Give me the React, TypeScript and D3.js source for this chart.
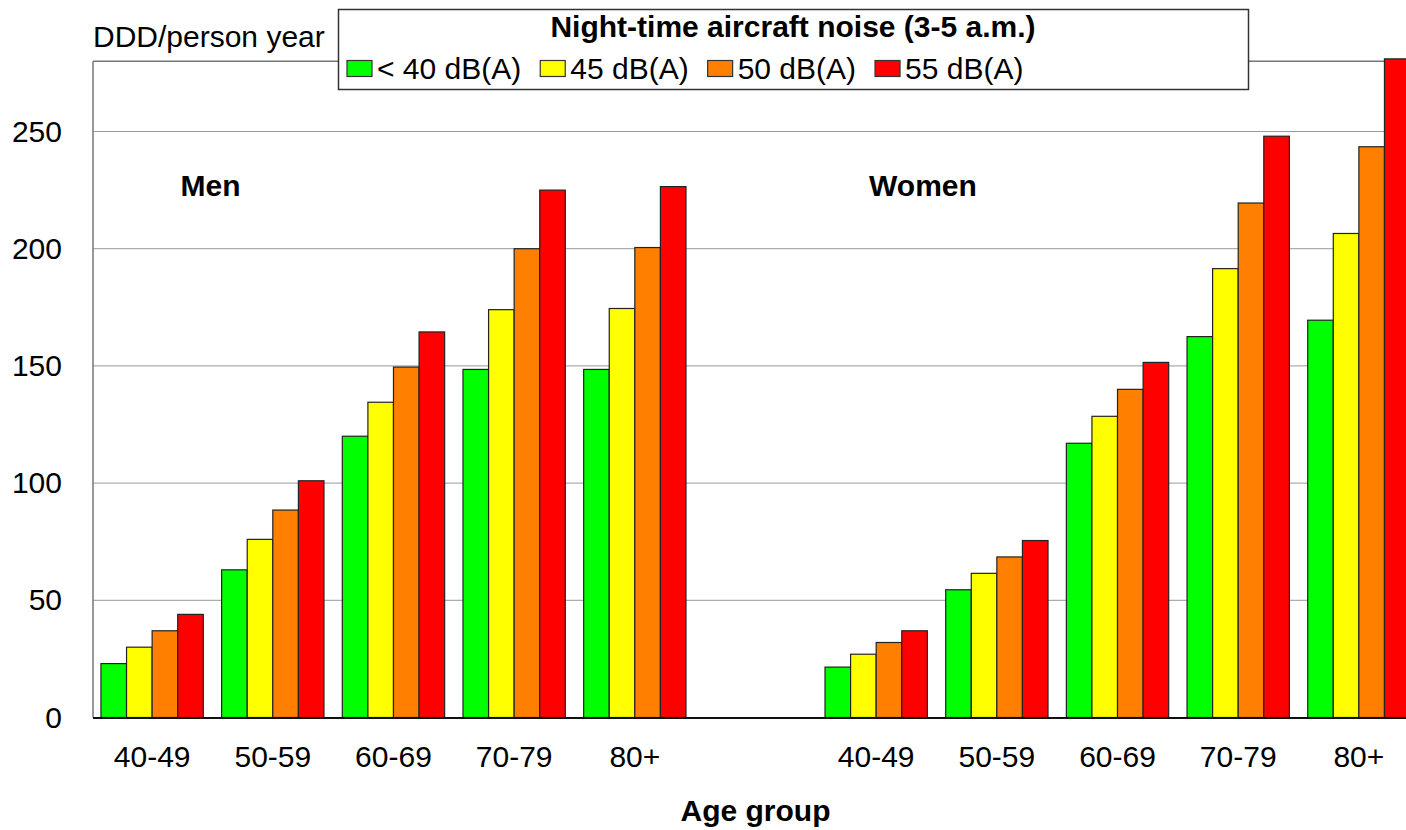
import * as d3 from "d3";
import { useEffect, useRef } from "react";

// age groups, men first, an empty slot, then women
const ageGroups = ["40-49", "50-59", "60-69", "70-79", "80+"];
const slots = [...ageGroups.map(g => "M " + g), "gap", ...ageGroups.map(g => "W " + g)];
const tickLabels = [...ageGroups, "", ...ageGroups];

const seriesNames = ["< 40 dB(A)", "45 dB(A)", "50 dB(A)", "55 dB(A)"];
const seriesColors = ["#00ff00", "#ffff00", "#ff8000", "#ff0000"];

// DDD/person year
const menLt40 = [23, 63, 120, 148.5, 148.5];
const men45 = [30, 76, 134.5, 174, 174.5];
const men50 = [37, 88.5, 149.5, 200, 200.5];
const men55 = [44, 101, 164.5, 225, 226.5];
const womenLt40 = [21.5, 54.5, 117, 162.5, 169.5];
const women45 = [27, 61.5, 128.5, 191.5, 206.5];
const women50 = [32, 68.5, 140, 219.5, 243.5];
const women55 = [37, 75.5, 151.5, 248, 281];

const yTicks = [0, 50, 100, 150, 200, 250];

const FONT = "'Liberation Sans', Arial, sans-serif";

function drawChart(div: HTMLDivElement) {
    const width = 1406;
    const height = 830;
    const left = 93;
    const right = 1418;
    const top = 61.2;
    const bottom = 717.5;

    d3.select(div).selectAll("*").remove();

    const svg = d3.select(div)
        .append("svg")
        .attr("width", width)
        .attr("height", height)
        .style("position", "absolute")
        .style("left", 0)
        .style("top", 0)
        .style("background", "#fff")
        .style("font-family", FONT);

    const x = d3.scaleBand<string>()
        .domain(slots)
        .range([left, right])
        .paddingInner(0.152)
        .paddingOuter(0.066);

    const xSeries = d3.scaleBand<string>()
        .domain(seriesNames)
        .range([0, x.bandwidth()])
        .padding(0);

    const y = d3.scaleLinear().domain([0, 280]).range([bottom, top]);

    // gridlines
    svg.append("g")
        .selectAll("line")
        .data(yTicks.filter(t => t > 0))
        .enter()
        .append("line")
        .attr("x1", left)
        .attr("x2", right)
        .attr("y1", d => y(d))
        .attr("y2", d => y(d))
        .attr("stroke", "#999")
        .attr("stroke-width", 1);

    // top and left frame lines
    svg.append("line")
        .attr("x1", left).attr("x2", right)
        .attr("y1", top).attr("y2", top)
        .attr("stroke", "#777").attr("stroke-width", 1.5);
    svg.append("line")
        .attr("x1", left).attr("x2", left)
        .attr("y1", top).attr("y2", bottom)
        .attr("stroke", "#777").attr("stroke-width", 1.5);

    // bars
    const rows: { slot: string; series: string; value: number }[] = [];
    const men = [menLt40, men45, men50, men55];
    const women = [womenLt40, women45, women50, women55];
    ageGroups.forEach((g, i) => {
        seriesNames.forEach((s, j) => {
            rows.push({ slot: "M " + g, series: s, value: men[j][i] });
            rows.push({ slot: "W " + g, series: s, value: women[j][i] });
        });
    });
    const color = d3.scaleOrdinal<string, string>().domain(seriesNames).range(seriesColors);

    svg.append("g")
        .selectAll("rect")
        .data(rows)
        .enter()
        .append("rect")
        .attr("x", d => (x(d.slot) as number) + (xSeries(d.series) as number))
        .attr("width", xSeries.bandwidth())
        .attr("y", d => y(d.value))
        .attr("height", d => y(0) - y(d.value))
        .attr("fill", d => color(d.series))
        .attr("stroke", "#222")
        .attr("stroke-width", 1.2);

    // zero line
    svg.append("line")
        .attr("x1", left).attr("x2", right)
        .attr("y1", bottom + 0.5).attr("y2", bottom + 0.5)
        .attr("stroke", "#111").attr("stroke-width", 2.2);

    // y axis labels
    const yAxis = svg.append("g")
        .attr("transform", `translate(${left},0)`)
        .call(d3.axisLeft(y).tickValues(yTicks).tickSize(0).tickPadding(31).tickFormat(d3.format("d")));
    yAxis.select(".domain").remove();
    yAxis.selectAll("text")
        .attr("font-family", FONT)
        .attr("font-size", 30)
        .attr("fill", "#000");

    // x axis labels
    const xAxis = svg.append("g")
        .attr("transform", `translate(0,${bottom})`)
        .call(d3.axisBottom(x).tickSize(0).tickPadding(28).tickFormat((_d, i) => tickLabels[i]));
    xAxis.select(".domain").remove();
    xAxis.selectAll("text")
        .attr("font-family", FONT)
        .attr("font-size", 30)
        .attr("fill", "#000");

    // axis titles and panel labels
    svg.append("text")
        .attr("x", left).attr("y", 47)
        .attr("font-size", 30)
        .text("DDD/person year");

    svg.append("text")
        .attr("x", (x("gap") as number) + x.bandwidth() / 2)
        .attr("y", 821)
        .attr("text-anchor", "middle")
        .attr("font-size", 30)
        .attr("font-weight", "bold")
        .text("Age group");

    svg.append("text")
        .attr("x", 210.5).attr("y", 196)
        .attr("text-anchor", "middle")
        .attr("font-size", 30)
        .attr("font-weight", "bold")
        .text("Men");

    svg.append("text")
        .attr("x", 923).attr("y", 196)
        .attr("text-anchor", "middle")
        .attr("font-size", 30)
        .attr("font-weight", "bold")
        .text("Women");

    // legend box
    const legend = svg.append("g");
    legend.append("rect")
        .attr("x", 338.5).attr("y", 9.5)
        .attr("width", 910).attr("height", 80)
        .attr("fill", "#fff")
        .attr("stroke", "#333")
        .attr("stroke-width", 1.5);
    legend.append("text")
        .attr("x", 793).attr("y", 37)
        .attr("text-anchor", "middle")
        .attr("font-size", 30)
        .attr("font-weight", "bold")
        .text("Night-time aircraft noise (3-5 a.m.)");

    let cx = 347;
    seriesNames.forEach((s, i) => {
        legend.append("rect")
            .attr("x", cx).attr("y", 60.5)
            .attr("width", 25).attr("height", 16)
            .attr("fill", seriesColors[i])
            .attr("stroke", "#333")
            .attr("stroke-width", 1.2);
        const t = legend.append("text")
            .attr("x", cx + 30).attr("y", 79)
            .attr("font-size", 30)
            .text(s);
        const w = (t.node() as SVGTextElement).getComputedTextLength();
        cx = cx + 30 + w + 19;
    });
}

export default function App() {
    const divRef = useRef<HTMLDivElement>(null);
    useEffect(() => {
        if (divRef.current) drawChart(divRef.current);
    }, [divRef]);

    return <div ref={divRef} />;
}
